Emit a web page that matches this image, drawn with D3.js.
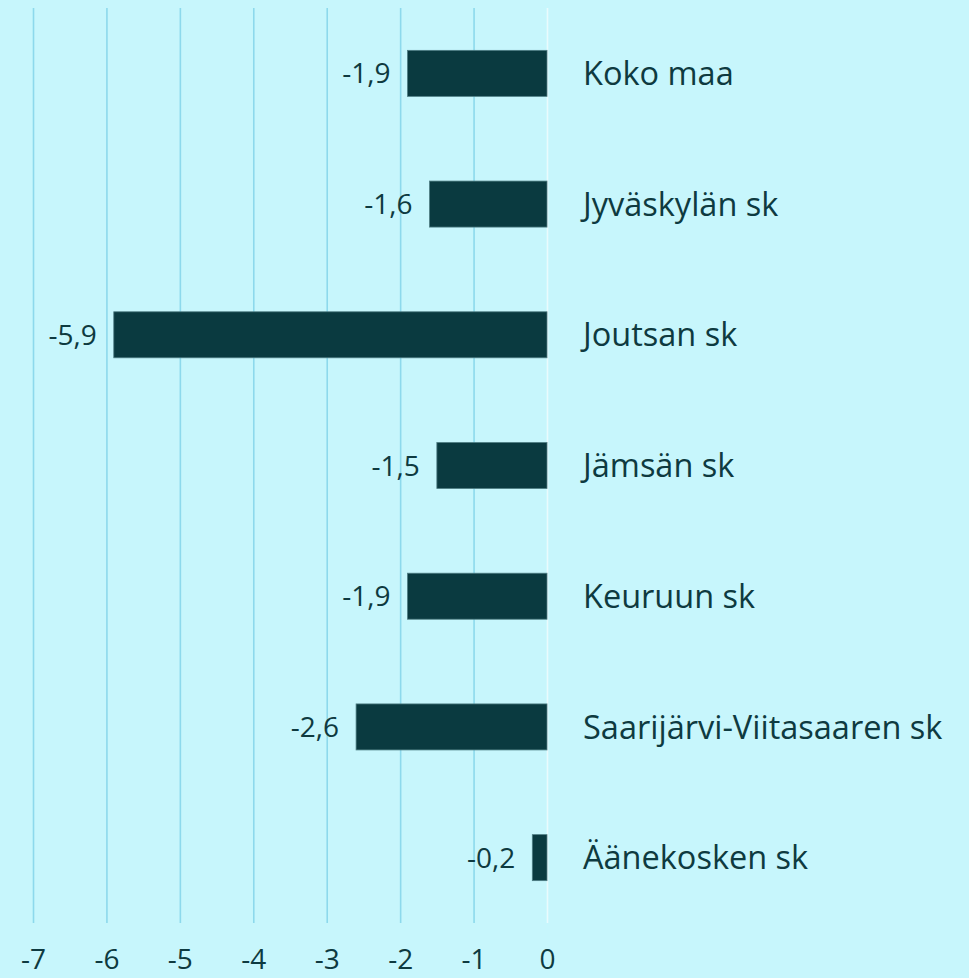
<!DOCTYPE html>
<html>
<head>
<meta charset="utf-8">
<script src="https://cdn.jsdelivr.net/npm/d3@7"></script>
<style>
    html, body { margin: 0; padding: 0; background: #c7f6fc; }
    svg { display: block; }
</style>
</head>
<body>
<svg width="969" height="978"></svg>
<script>
// categories from top to bottom
const categories = ["Koko maa", "Jyväskylän sk", "Joutsan sk", "Jämsän sk",
    "Keuruun sk", "Saarijärvi-Viitasaaren sk", "Äänekosken sk"];
// change, %
const values = [-1.9, -1.6, -5.9, -1.5, -1.9, -2.6, -0.2];
// values on the OX axis
const ticksX = [-7, -6, -5, -4, -3, -2, -1, 0];

// finnish number format: comma and plain hyphen
const fi = d3.formatLocale({ decimal: ",", thousands: " ", grouping: [3], currency: ["", " €"], minus: "-" });
const fmtValue = fi.format(".1f");
const fmtTick = fi.format("d");

const textColor = "#0e3a40";
const font = "'Open Sans', sans-serif";

function drawGraph() {
    let svg = d3.select("svg");

    // area of the plot
    let attr_area = {
        left: 33,
        right: 547,
        top: 8,
        bottom: 923
    };

    let data = categories.map((c, i) => ({ label: c, value: values[i] }));

    let scaleX = d3.scaleLinear()
        .domain([d3.min(ticksX), d3.max(ticksX)])
        .range([attr_area.left, attr_area.right]);

    let scaleY = d3.scaleBand()
        .domain(categories)
        .range([attr_area.top, attr_area.bottom])
        .paddingInner(0.648)
        .paddingOuter(0.324);

    // gridlines + tick labels
    let axisX = d3.axisBottom(scaleX)
        .tickValues(ticksX)
        .tickFormat(fmtTick)
        .tickSize(-(attr_area.bottom - attr_area.top))
        .tickPadding(26);

    let gx = svg.append("g")
        .attr("transform", `translate(0, ${attr_area.bottom})`)
        .call(axisX);
    gx.select(".domain").remove();
    gx.selectAll("line")
        .attr("stroke", d => d == 0 ? "#e9fbfd" : "#8dd9ec")
        .attr("stroke-width", 1.6);
    gx.selectAll("text")
        .attr("fill", textColor)
        .style("font-family", font)
        .style("font-size", "28px");

    // bars
    svg.selectAll(".bar")
        .data(data)
        .enter()
        .append("rect")
        .attr("class", "bar")
        .attr("x", d => scaleX(d.value))
        .attr("y", d => scaleY(d.label))
        .attr("width", d => scaleX(0) - scaleX(d.value))
        .attr("height", scaleY.bandwidth())
        .style("fill", "#0a3a40")
        .style("stroke", "#4f7e84")
        .style("stroke-width", 0.8);

    // value labels left of the bars
    svg.selectAll(".val")
        .data(data)
        .enter()
        .append("text")
        .attr("class", "val")
        .attr("x", d => scaleX(d.value) - 17)
        .attr("y", d => scaleY(d.label) + scaleY.bandwidth() / 2)
        .attr("dy", "0.36em")
        .attr("text-anchor", "end")
        .attr("fill", textColor)
        .style("font-family", font)
        .style("font-size", "28px")
        .text(d => fmtValue(d.value));

    // category names right of zero
    svg.selectAll(".cat")
        .data(data)
        .enter()
        .append("text")
        .attr("class", "cat")
        .attr("x", scaleX(0) + 36)
        .attr("y", d => scaleY(d.label) + scaleY.bandwidth() / 2)
        .attr("dy", "0.36em")
        .attr("fill", textColor)
        .style("font-family", font)
        .style("font-size", "32.5px")
        .text(d => d.label);
}

drawGraph();
</script>
</body>
</html>
